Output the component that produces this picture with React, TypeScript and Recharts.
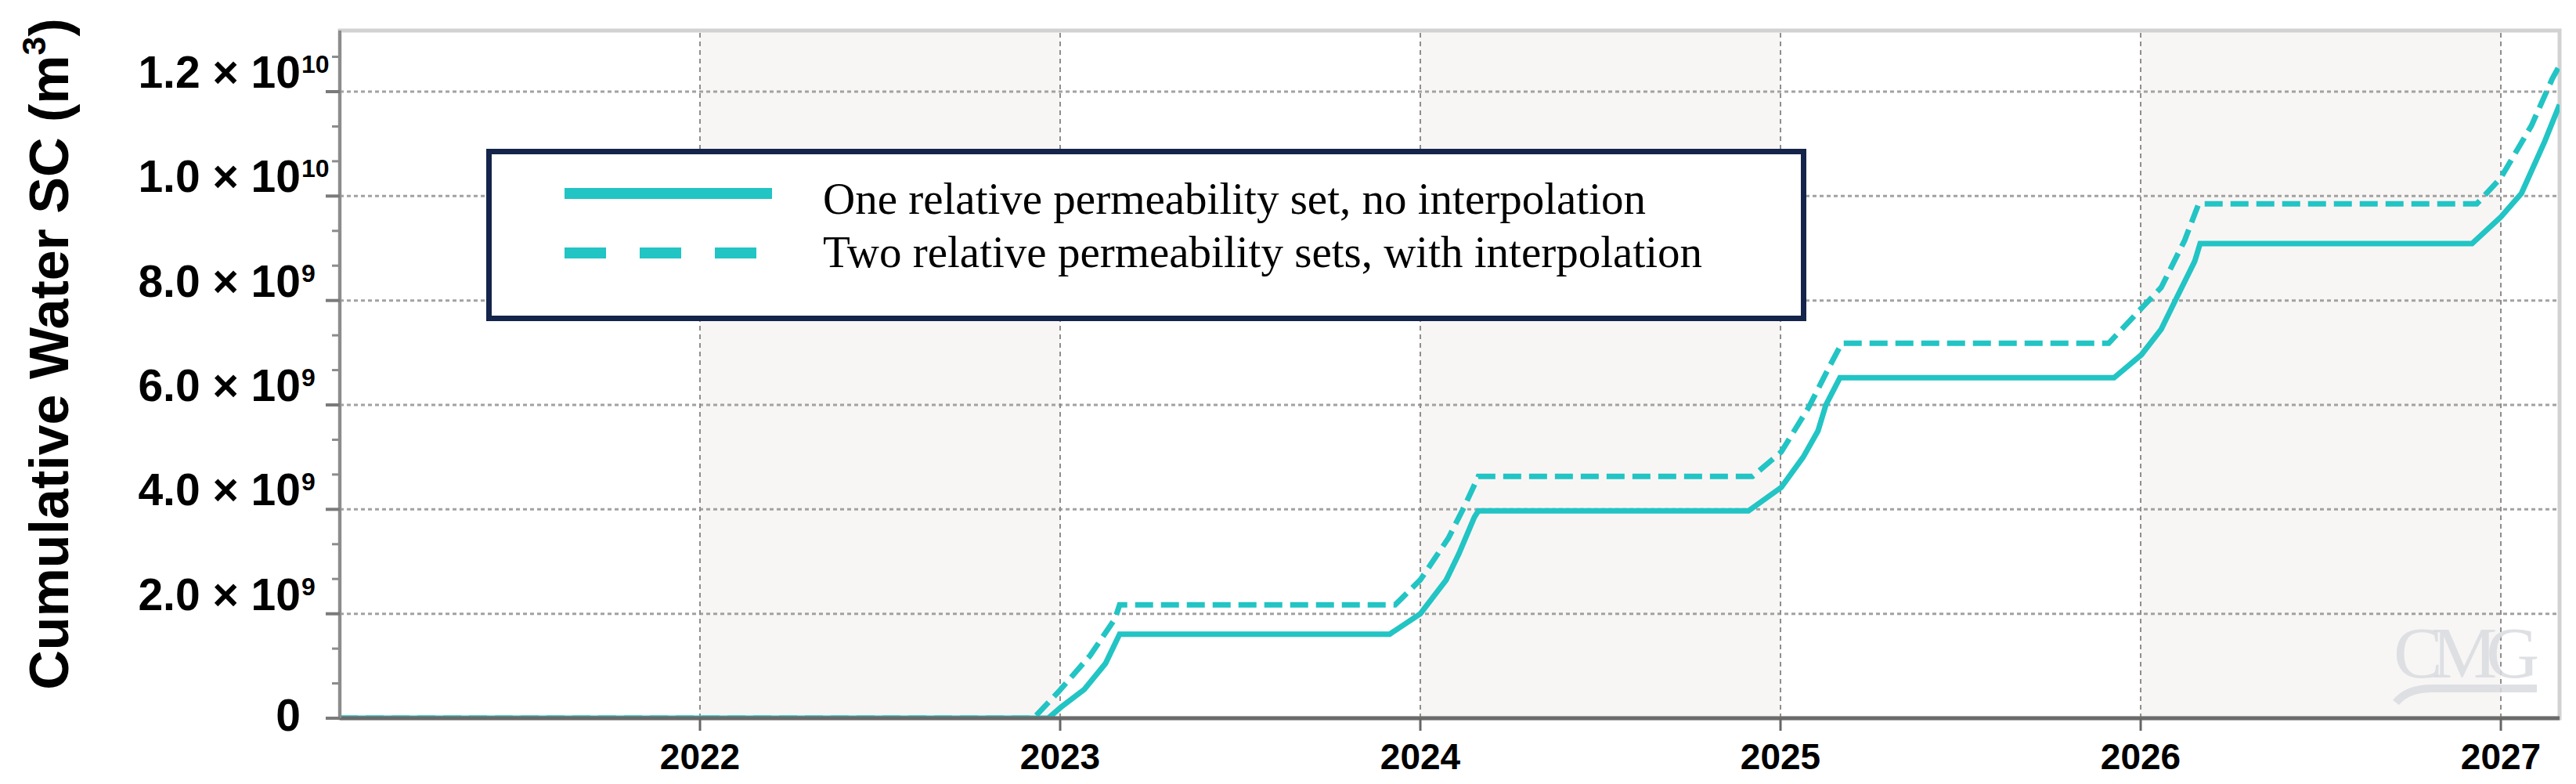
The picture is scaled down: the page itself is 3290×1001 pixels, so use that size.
import { LineChart, Line, XAxis, YAxis, ReferenceArea, ReferenceLine, Legend, Label } from "recharts";

// time in decimal years, volumes in units of 1e9 m3
const solidYears = [
  2021.0, 2022.967, 2023.002, 2023.067, 2023.126, 2023.165,
  2023.915, 2024.0, 2024.072, 2024.107, 2024.15, 2024.161,
  2024.911, 2025.002, 2025.063, 2025.104, 2025.126, 2025.165,
  2025.926, 2026.002, 2026.057, 2026.096, 2026.15, 2026.165,
  2026.92, 2027.0, 2027.057, 2027.122, 2027.163,
];
const solidValues = [
  0, 0, 0.21, 0.55, 1.05, 1.61,
  1.61, 2.0, 2.65, 3.15, 3.85, 3.97,
  3.97, 4.42, 5.0, 5.5, 6.0, 6.52,
  6.52, 6.96, 7.45, 8.0, 8.75, 9.09,
  9.09, 9.6, 10.05, 11.05, 11.75,
];
const dashedYears = [
  2021.0, 2022.926, 2022.996, 2023.083, 2023.152, 2023.165,
  2023.93, 2024.0, 2024.078, 2024.122, 2024.161,
  2024.922, 2025.002, 2025.078, 2025.137, 2025.17,
  2025.911, 2026.002, 2026.057, 2026.122, 2026.161,
  2026.933, 2027.0, 2027.085, 2027.143, 2027.163,
];
const dashedValues = [
  0, 0, 0.51, 1.2, 1.9, 2.17,
  2.17, 2.65, 3.45, 4.05, 4.63,
  4.63, 5.1, 5.95, 6.75, 7.18,
  7.18, 7.85, 8.25, 9.15, 9.85,
  9.85, 10.35, 11.35, 12.25, 12.5,
];

const yearTicks = [2022, 2023, 2024, 2025, 2026, 2027];
const shadedStarts = [2022, 2024, 2026];
const majorTicks = [0, 2, 4, 6, 8, 10, 12];
const majorLabels = ["0", "2.0 × 10", "4.0 × 10", "6.0 × 10", "8.0 × 10", "1.0 × 10", "1.2 × 10"];
const majorExponents = ["", "9", "9", "9", "9", "10", "10"];
const minorTicks = [0.667, 1.333, 2.667, 3.333, 4.667, 5.333, 6.667, 7.333, 8.667, 9.333, 10.667, 11.333, 12.667];
const seriesNames = ["One relative permeability set, no interpolation", "Two relative permeability sets, with interpolation"];

const X_MIN = 2021.0;
const X_MAX = 2027.163;
const Y_MAX = 13.17;
const TEAL = "#22C4C4";
const SANS = '"Liberation Sans", Arial, sans-serif';
const SERIF = '"Liberation Serif", "Times New Roman", serif';

const solidData = solidYears.map((t, i) => ({ t, v: solidValues[i] }));
const dashedData = dashedYears.map((t, i) => ({ t, v: dashedValues[i] }));

function YTick(props: any) {
  const { x, y, payload } = props;
  const idx = majorTicks.indexOf(payload.value);
  if (idx < 0) {
    return <line x1={x - 10} x2={x} y1={y} y2={y} stroke="#8c8c8c" strokeWidth={3} />;
  }
  const base = payload.value === 0 ? y + 16 : y - 5;
  return (
    <g>
      <line x1={x - 18} x2={x} y1={y} y2={y} stroke="#7a7a7a" strokeWidth={4} />
      <text x={x - 50} y={base} textAnchor="end" fontFamily={SANS} fontWeight="bold" fontSize={57} fill="#000">
        {majorLabels[idx]}
      </text>
      {majorExponents[idx] && (
        <text x={x - 49} y={base - 19} textAnchor="start" fontFamily={SANS} fontWeight="bold" fontSize={32} fill="#000">
          {majorExponents[idx]}
        </text>
      )}
    </g>
  );
}

function XTick(props: any) {
  const { x, y, payload } = props;
  return (
    <text x={x} y={y + 49} textAnchor="middle" fontFamily={SANS} fontWeight="bold" fontSize={46} fill="#000">
      {payload.value}
    </text>
  );
}

function YTitle(props: any) {
  const vb = props.viewBox || { x: 0, y: 39, height: 878 };
  const cx = vb.x + 87;
  const cy = vb.y + vb.height / 2 - 26;
  return (
    <text
      x={cx}
      y={cy}
      transform={`rotate(-90, ${cx}, ${cy})`}
      textAnchor="middle"
      fontFamily={SANS}
      fontWeight="bold"
      fontSize={70}
      fill="#000"
    >
      Cumulative Water SC (m<tspan dy={-29} fontSize={43}>3</tspan><tspan dy={29}>)</tspan>
    </text>
  );
}

function LegendBox() {
  return (
    <svg width={1686} height={220} style={{ display: "block" }}>
      <rect x={3.5} y={3.5} width={1679} height={213} fill="#fff" stroke="#14244a" strokeWidth={7} />
      <line x1={100} x2={365} y1={57} y2={57} stroke={TEAL} strokeWidth={14} />
      <line x1={100} x2={347} y1={133} y2={133} stroke={TEAL} strokeWidth={14} strokeDasharray="53 43" />
      <text x={430} y={83} fontFamily={SERIF} fontSize={57} fill="#000">{seriesNames[0]}</text>
      <text x={430} y={151} fontFamily={SERIF} fontSize={57} fill="#000">{seriesNames[1]}</text>
    </svg>
  );
}

export default function App() {
  return (
    <div style={{ position: "absolute", left: 0, top: 0, width: 3290, height: 1001, background: "#fff" }}>
      <LineChart width={3290} height={1001} margin={{ top: 39, right: 21, bottom: 0, left: 0 }}>
        {shadedStarts.map((s) => (
          <ReferenceArea key={s} x1={s} x2={s + 1} y1={0} y2={Y_MAX} fill="#f7f6f5" fillOpacity={1} stroke="none" ifOverflow="hidden" />
        ))}
        <ReferenceArea x1={X_MIN} x2={X_MAX} y1={0} y2={Y_MAX} fill="none" stroke="#d2d2d2" strokeWidth={5} ifOverflow="visible" />
        {majorTicks.filter((v) => v > 0).map((v) => (
          <ReferenceLine key={`h${v}`} y={v} stroke="#a2a2a2" strokeWidth={3} strokeDasharray="5 4" />
        ))}
        {yearTicks.map((yr) => (
          <ReferenceLine key={`v${yr}`} x={yr} stroke="#8e8e8e" strokeWidth={2} strokeDasharray="6 5" />
        ))}
        <XAxis
          type="number"
          dataKey="t"
          domain={[X_MIN, X_MAX]}
          ticks={yearTicks}
          allowDataOverflow
          height={84}
          tickSize={16}
          tickMargin={0}
          tickLine={{ stroke: "#666", strokeWidth: 3 }}
          axisLine={{ stroke: "#6b6b6b", strokeWidth: 5 }}
          tick={<XTick />}
        />
        <YAxis
          type="number"
          domain={[0, Y_MAX]}
          ticks={[...majorTicks, ...minorTicks].sort((a, b) => a - b)}
          allowDataOverflow
          width={434}
          tickSize={0}
          tickMargin={0}
          tickLine={false}
          axisLine={{ stroke: "#8c8c8c", strokeWidth: 4 }}
          tick={<YTick />}
          interval={0}
        >
          <Label content={<YTitle />} />
        </YAxis>
        <Legend
          layout="horizontal"
          verticalAlign="middle"
          align="center"
          content={() => <LegendBox />}
          wrapperStyle={{ position: "absolute", left: 621, top: 190, width: 1686, height: 220 }}
        />
        <Line data={solidData} dataKey="v" name={seriesNames[0]} type="linear" stroke={TEAL} strokeWidth={7} dot={false} isAnimationActive={false} />
        <Line data={dashedData} dataKey="v" name={seriesNames[1]} type="linear" stroke={TEAL} strokeWidth={7} strokeDasharray="23 10" dot={false} isAnimationActive={false} />
      </LineChart>
      <svg width={3290} height={1001} style={{ position: "absolute", left: 0, top: 0, pointerEvents: "none" }}>
        <text x={3057} y={865} fontFamily={SERIF} fontSize={94} letterSpacing={-14} fill="#d8dbdf" fillOpacity={0.85}>CMG</text>
        <path d="M3060 897 Q3075 878 3110 879 L3240 879" stroke="#d8dbdf" strokeOpacity={0.85} strokeWidth={10} fill="none" />
      </svg>
    </div>
  );
}
